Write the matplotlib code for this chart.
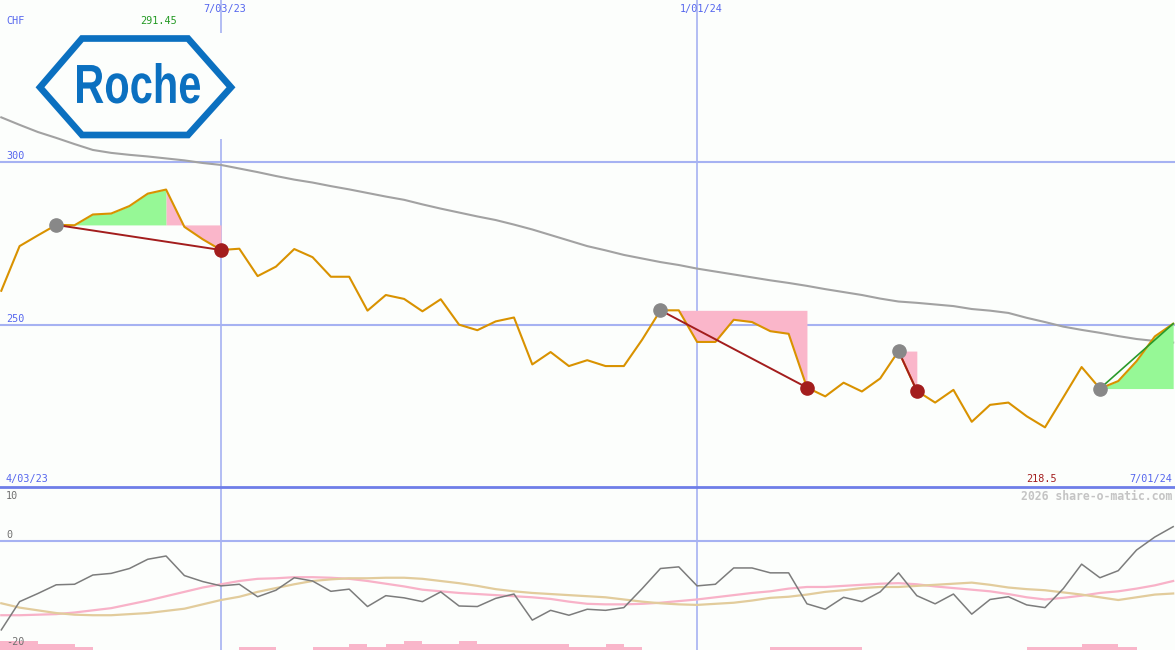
import numpy as np
import matplotlib.pyplot as plt
from matplotlib.patches import Polygon, Rectangle, PathPatch
from matplotlib.textpath import TextPath
from matplotlib.font_manager import FontProperties
from matplotlib.transforms import Affine2D, IdentityTransform

plt.rcParams['font.family'] = 'DejaVu Sans Mono'

# weekly closes, CHF (week 1 .. 65)
weeks = np.arange(1, 66)
price = [260.4, 274.1, 277.4, 280.6, 280.5, 283.8, 284.1, 286.4, 290.2, 291.45,
         280.0, 276.2, 272.9, 273.3, 264.9, 267.8, 273.2, 270.7, 264.7, 264.7,
         254.3, 259.1, 257.9, 254.1, 257.8, 250.0, 248.3, 251.0, 252.2, 237.8,
         241.6, 237.3, 239.1, 237.3, 237.3, 245.4, 254.4, 254.4, 244.7, 244.7,
         251.5, 250.8, 248.0, 247.2, 230.7, 228.0, 232.2, 229.5, 233.5, 241.9,
         229.7, 226.1, 230.0, 220.2, 225.4, 226.1, 221.9, 218.5, 227.7, 237.0,
         230.4, 232.7, 238.8, 246.4, 250.3]
ma_long = [313.6, 311.3, 309.1, 307.3, 305.4, 303.6, 302.7, 302.1, 301.6, 301.0,
           300.4, 299.6, 299.0, 297.9, 296.8, 295.6, 294.5, 293.6, 292.5, 291.5,
           290.4, 289.3, 288.3, 286.9, 285.6, 284.4, 283.2, 282.1, 280.7, 279.2,
           277.5, 275.8, 274.1, 272.8, 271.4, 270.3, 269.2, 268.3, 267.2, 266.3,
           265.4, 264.5, 263.6, 262.8, 261.9, 260.9, 260.0, 259.1, 258.0, 257.1,
           256.7, 256.2, 255.7, 254.8, 254.3, 253.6, 252.1, 250.8, 249.4, 248.4,
           247.5, 246.5, 245.6, 245.0, 244.5]

# lower panel
osc = [-16.3, -11.1, -9.6, -8.0, -7.9, -6.2, -5.9, -5.0, -3.3, -2.7,
       -6.3, -7.4, -8.2, -7.9, -10.2, -9.0, -6.7, -7.3, -9.2, -8.8,
       -12.0, -10.0, -10.4, -11.1, -9.3, -11.9, -12.0, -10.5, -9.7, -14.5,
       -12.7, -13.6, -12.5, -12.7, -12.2, -8.7, -5.0, -4.7, -8.2, -7.9,
       -4.9, -4.9, -5.8, -5.8, -11.5, -12.5, -10.3, -11.1, -9.3, -5.8,
       -10.0, -11.5, -9.7, -13.4, -10.7, -10.2, -11.7, -12.2, -8.7, -4.2,
       -6.7, -5.4, -1.6, 0.8, 2.7]
osc_fast = [-13.6, -13.6, -13.5, -13.4, -13.1, -12.7, -12.3, -11.6, -10.9, -10.1,
            -9.3, -8.5, -7.9, -7.3, -6.9, -6.8, -6.6, -6.6, -6.7, -6.9,
            -7.3, -7.8, -8.3, -8.9, -9.2, -9.5, -9.7, -9.9, -10.1, -10.3,
            -10.6, -11.1, -11.5, -11.6, -11.6, -11.5, -11.3, -11.0, -10.7, -10.3,
            -9.9, -9.5, -9.2, -8.7, -8.4, -8.4, -8.2, -8.0, -7.8, -7.7,
            -7.9, -8.3, -8.6, -8.9, -9.2, -9.7, -10.3, -10.7, -10.4, -10.0,
            -9.5, -9.2, -8.7, -8.1, -7.3]
osc_slow = [-11.4, -12.2, -12.7, -13.2, -13.5, -13.6, -13.6, -13.4, -13.2, -12.8,
            -12.4, -11.6, -10.8, -10.2, -9.3, -8.6, -7.9, -7.3, -7.0, -6.8,
            -6.8, -6.7, -6.7, -6.9, -7.3, -7.7, -8.2, -8.8, -9.2, -9.5,
            -9.7, -9.9, -10.1, -10.3, -10.7, -11.1, -11.4, -11.6, -11.7, -11.5,
            -11.3, -10.9, -10.4, -10.2, -9.8, -9.3, -9.0, -8.6, -8.4, -8.4,
            -8.2, -8.0, -7.8, -7.6, -8.0, -8.5, -8.8, -9.0, -9.4, -9.8,
            -10.3, -10.8, -10.3, -9.8, -9.6]
# histogram bars, one per week interval starting at week 0
bar_weeks = np.arange(0, 65)
bars = [1.65, 1.65, 1.65, 1.1, 1.1, 0.55, 0, 0, 0, 0, 0, 0, 0, 0,
        0.55, 0.55, 0, 0, 0.55, 0.55, 1.1, 0.55, 1.1, 1.65, 1.1, 1.1, 1.65,
        1.1, 1.1, 1.1, 1.1, 1.1, 0.55, 0.55, 1.1, 0.55, 0, 0, 0, 0, 0, 0, 0,
        0.55, 0.55, 0.55, 0.55, 0.55, 0, 0, 0, 0, 0, 0, 0, 0, 0,
        0.55, 0.55, 0.55, 1.1, 1.1, 0.55, 0, 0]

entry_weeks = [4, 37, 50]
exit_weeks = [13, 45, 51]
open_entry = 61
mark_weeks = [13, 39]
mark_labels = ['7/03/23', '1/01/24']
start_label = '4/03/23'
end_label = '7/01/24'

BG = '#fcfefc'
GRID = '#a6b2f2'
LBL = '#5566ee'
DARKRED = '#a31d1d'
ROCHE = '#0b70c0'

fig = plt.figure(figsize=(11.75, 6.5), dpi=100, facecolor=BG)
ax1 = fig.add_axes([0, 163 / 650, 1, 487 / 650])
ax2 = fig.add_axes([0, 0, 1, 163 / 650])
for ax in (ax1, ax2):
    ax.set_xlim(0.93, 65.1)
    ax.set_axis_off()
ax1.set_ylim(200.2, 349.6)
ax2.set_ylim(-20, 10)

# grid
for v in (300, 250):
    ax1.axhline(v, color=GRID, lw=1.5, zorder=1)
for m in mark_weeks:
    ax1.axvline(m, color=GRID, lw=1.2, zorder=1)
    ax2.axvline(m, color=GRID, lw=1.2, zorder=1)
ax2.axhline(0, color=GRID, lw=1.5, zorder=1)
ax2.axhline(10, color='#6e7ee8', lw=2, zorder=6, clip_on=False)

# logo, in image pixels (top-left origin), sits above the grid but under the data
px = Affine2D().scale(1, -1).translate(0, 650) + IdentityTransform()
ax1.add_patch(Rectangle((33, 33), 205, 106, color=BG, lw=0, transform=px, zorder=1.5, clip_on=False))
hexa = [(40, 87.3), (82, 38.5), (188, 38.5), (231, 87.3), (188, 135), (82, 135)]
ax1.add_patch(Polygon(hexa, closed=True, fill=False, ec=ROCHE, lw=4.8, joinstyle='miter',
                      transform=px, zorder=1.6, clip_on=False))
tp = TextPath((0, 0), 'Roche', size=1, prop=FontProperties(family='Liberation Sans', weight='bold'))
ext = tp.get_extents()
sx = 123 / ext.width
sy = 40.5 / ext.height
tform = Affine2D().translate(-ext.x0, -ext.y1).scale(sx, -sy).translate(77, 63)
ax1.add_patch(PathPatch(tform.transform_path(tp), color=ROCHE, lw=0, transform=px,
                        zorder=1.6, clip_on=False))

# upper panel
pr = np.array(price)
ax1.plot(weeks, ma_long, color='#a2a2a2', lw=1.5, zorder=2)
for e, x in zip(entry_weeks, exit_weeks):
    lvl = pr[e - 1]
    pk = e + int(np.argmax(pr[e - 1:x]))
    sel = (weeks >= e) & (weeks <= pk)
    ax1.fill_between(weeks[sel], pr[sel], lvl, color='#96f896', lw=0, zorder=2)
    sel = (weeks >= pk) & (weeks <= x)
    ax1.fill_between(weeks[sel], pr[sel], lvl, color='#fab6ca', lw=0, zorder=2)
    ax1.plot([e, x], [lvl, pr[x - 1]], color=DARKRED, lw=1.4, zorder=4)
lvl = pr[open_entry - 1]
sel = weeks >= open_entry
ax1.fill_between(weeks[sel], pr[sel], lvl, color='#96f896', lw=0, zorder=2)
ax1.plot([open_entry, weeks[-1]], [lvl, pr[-1]], color='#2a9a2a', lw=1.2, zorder=4)
ax1.plot(weeks, price, color='#d99200', lw=1.5, zorder=3)
ent = entry_weeks + [open_entry]
ax1.plot(ent, [price[i - 1] for i in ent], 'o', color='#888888', ms=9.5, zorder=5)
ax1.plot(exit_weeks, [price[i - 1] for i in exit_weeks], 'o', color=DARKRED, ms=9.5, zorder=5)

# lower panel
ax2.bar(bar_weeks, bars, width=1, bottom=-20, align='edge', color='#f9b6ca', lw=0, zorder=2)
ax2.plot(weeks, osc_fast, color='#f8b2c8', lw=1.6, zorder=3)
ax2.plot(weeks, osc_slow, color='#e2cc9c', lw=1.6, zorder=3)
ax2.plot(weeks, osc, color='#7c7c7c', lw=1.1, zorder=4)

fs = 7.3
op = 'offset pixels'
ax1.annotate('CHF', xy=(0, 1), xycoords='axes fraction', xytext=(6, -21), textcoords=op,
             va='center', color=LBL, fontsize=fs)
imax = int(np.argmax(pr))
ax1.annotate(f'{pr[imax]:.2f}', xy=(weeks[imax], 1), xycoords=('data', 'axes fraction'),
             xytext=(-8, -21), textcoords=op, ha='center', va='center', color='#229922', fontsize=fs)
for m, lab in zip(mark_weeks, mark_labels):
    ax1.annotate(lab, xy=(m, 1), xycoords=('data', 'axes fraction'), xytext=(4, -9),
                 textcoords=op, ha='center', va='center', color=LBL, fontsize=fs)
for v in (300, 250):
    ax1.annotate(str(v), xy=(0, v), xycoords=('axes fraction', 'data'), xytext=(6, 6),
                 textcoords=op, va='center', color=LBL, fontsize=fs)
ax1.annotate(start_label, xy=(0, 0), xycoords='axes fraction', xytext=(6, 8), textcoords=op,
             va='center', color=LBL, fontsize=fs)
ax1.annotate(end_label, xy=(1, 0), xycoords='axes fraction', xytext=(-3, 8), textcoords=op,
             ha='right', va='center', color=LBL, fontsize=fs)
imin = int(np.argmin(pr))
ax1.annotate(f'{pr[imin]:.1f}', xy=(weeks[imin], 0), xycoords=('data', 'axes fraction'),
             xytext=(-3, 8), textcoords=op, ha='center', va='center', color=DARKRED, fontsize=fs)

ax2.annotate('10', xy=(0, 1), xycoords='axes fraction', xytext=(6, -9), textcoords=op,
             va='center', color='#707070', fontsize=fs)
ax2.annotate('0', xy=(0, 0), xycoords=('axes fraction', 'data'), xytext=(6, 6), textcoords=op,
             va='center', color='#707070', fontsize=fs)
ax2.annotate('-20', xy=(0, 0), xycoords='axes fraction', xytext=(6, 8), textcoords=op,
             va='center', color='#707070', fontsize=fs)
ax2.annotate('2026 share-o-matic.com', xy=(1, 1), xycoords='axes fraction', xytext=(-3, -9),
             textcoords=op, ha='right', va='center', color='#c4c4c4', fontsize=8.3,
             fontweight='bold', zorder=7)

fig.savefig('out.png', dpi=100, facecolor=BG)
